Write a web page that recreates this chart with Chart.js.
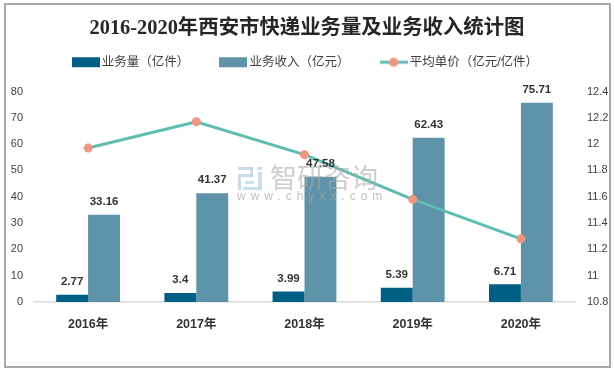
<!DOCTYPE html>
<html><head><meta charset="utf-8">
<script src="https://cdn.jsdelivr.net/npm/chart.js@4"></script>
<style>
html,body{margin:0;padding:0;background:#fff}
#wrap{position:relative;width:614px;height:370px;overflow:hidden}
#frame{position:absolute;left:4px;top:3px;width:603px;height:361px;border:2px solid #a8a8a8;pointer-events:none}
canvas{position:absolute;left:0;top:0}
</style></head><body>
<div id="wrap"><canvas id="c" width="614" height="370"></canvas><div id="frame"></div></div>
<script>
const categories = ['2016年','2017年','2018年','2019年','2020年'];
const volume = [2.77,3.4,3.99,5.39,6.71];
const revenue = [33.16,41.37,47.58,62.43,75.71];
const unitPrice = [11.97,12.17,11.92,11.58,11.28];
const leftTicks = [0,10,20,30,40,50,60,70,80];
const titleText = '2016-2020年西安市快递业务量及业务收入统计图';
const names = ['业务量（亿件）','业务收入（亿元）','平均单价（亿元/亿件）'];
const DARK='#005f85', LIGHT='#5f93aa', LINE='#5fbcb0', DOT='#ee9680';
const SANS='"Liberation Sans","Noto Sans CJK SC",sans-serif';

function swatch(kind){
  const k=document.createElement('canvas');k.width=28;k.height=12;
  const x=k.getContext('2d');
  if(kind==='line'){
    x.fillStyle=LINE;x.fillRect(0,4.5,28,3);
    x.fillStyle=DOT;x.beginPath();x.arc(14,6,4.5,0,Math.PI*2);x.fill();
  }else{x.fillStyle=kind;x.fillRect(0,1,28,10);}
  return k;
}
const marks={bar0:swatch(DARK),bar1:swatch(LIGHT),line:swatch('line')};

const labelPlugin={id:'valueLabels',afterDatasetsDraw(chart){
  const ctx=chart.ctx;ctx.save();
  ctx.font='bold 11.5px '+SANS;ctx.fillStyle='#333';ctx.textAlign='center';ctx.textBaseline='middle';
  [0,1].forEach(d=>{
    chart.getDatasetMeta(d).data.forEach((el,i)=>{
      ctx.fillText(String(chart.data.datasets[d].data[i]),el.x,el.y-13);
    });
  });
  ctx.restore();
}};
const watermark={id:'watermark',afterDraw(chart){
  const ctx=chart.ctx;ctx.save();
  ctx.fillStyle='rgba(190,205,225,.75)';
  ctx.fillRect(238,167,15,3);ctx.fillRect(250,167,3,10);ctx.fillRect(238,174,15,3);ctx.fillRect(238,177,3,13);
  ctx.fillStyle='rgba(190,220,240,.85)';
  ctx.fillRect(257,167,5,3);ctx.fillRect(258,172,4,18);ctx.fillRect(243,187,19,3);ctx.fillRect(245,181,9,3);
  ctx.fillStyle='rgba(165,165,165,.55)';
  ctx.textAlign='left';ctx.textBaseline='middle';
  ctx.font='27px "Noto Sans CJK SC",sans-serif';
  ctx.letterSpacing='0px';
  ctx.fillText('智研咨询',270,178);
  ctx.font='12px "Liberation Sans",sans-serif';
  ctx.letterSpacing='5px';
  ctx.fillStyle='rgba(165,165,165,.7)';
  ctx.fillText('www.chyxx.com',237,197);
  ctx.restore();
}};
const LEGEND_EXTRA=13;
const legendTweak={id:'legendTweak',beforeLayout(chart){
  const lg=chart.legend;
  if(lg._fitWrapped)return;
  lg._fitWrapped=true;
  const f=lg.fit;
  lg.fit=function(){f.call(this);this.height+=LEGEND_EXTRA;};
}};

new Chart(document.getElementById('c'),{
  type:'bar',
  data:{labels:categories,datasets:[
    {label:names[0],data:volume,backgroundColor:DARK,yAxisID:'y',order:2,barPercentage:1,categoryPercentage:.59},
    {label:names[1],data:revenue,backgroundColor:LIGHT,yAxisID:'y',order:2,barPercentage:1,categoryPercentage:.59},
    {label:names[2],type:'line',data:unitPrice,yAxisID:'y1',order:1,borderColor:LINE,borderWidth:3,tension:0,
     pointRadius:4.5,pointBackgroundColor:DOT,pointBorderWidth:0,pointHoverRadius:4.5}
  ]},
  options:{
    responsive:false,animation:false,
    layout:{padding:{top:16,left:0,right:0,bottom:0}},
    plugins:{
      tooltip:{enabled:false},
      title:{display:true,text:titleText,color:'#262626',
        font:{family:'"Liberation Serif","Noto Sans CJK SC",serif',size:20.4,weight:'bold'},padding:{top:0,bottom:-19}},
      legend:{position:'top',onClick:null,
        labels:{
          color:'#404040',font:{family:SANS,size:12.5},usePointStyle:true,pointStyleWidth:19.5,boxHeight:12,padding:34.5,
          generateLabels(chart){
            const m=[marks.bar0,marks.bar1,marks.line];
            return chart.data.datasets.map((d,i)=>({text:d.label,datasetIndex:i,pointStyle:m[i],fontColor:'#404040',lineWidth:0,strokeStyle:'transparent',fillStyle:'transparent'}));
          }
        }
      }
    },
    scales:{
      x:{grid:{display:false,drawTicks:false},border:{color:'#d9d9d9',width:1.5},
        ticks:{color:'#333',font:{family:SANS,size:12.5,weight:'bold'},padding:15,maxRotation:0},
        afterFit(s){s.height=68;}},
      y:{position:'left',min:0,max:80,grid:{display:false,drawTicks:false},border:{display:false},
        afterBuildTicks(s){s.ticks=leftTicks.map(v=>({value:v}));},
        ticks:{color:'#404040',font:{family:SANS,size:11},padding:11},
        afterFit(s){s.width=34;}},
      y1:{position:'right',min:10.8,max:12.4,grid:{display:false,drawTicks:false},border:{display:false},
        ticks:{stepSize:.2,color:'#404040',font:{family:SANS,size:11},padding:12,
          callback(v){return String(Math.round(v*10)/10);}},
        afterFit(s){s.width=39;}}
    }
  },
  plugins:[labelPlugin,watermark,legendTweak]
});
</script></body></html>
